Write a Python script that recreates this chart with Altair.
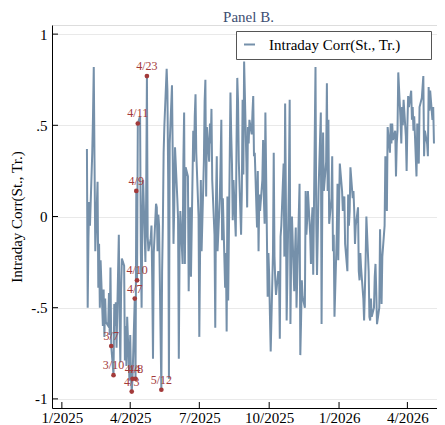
import altair as alt
import pandas as pd

# ---- data: intraday correlation, one value per business day, by month ----
feb25 = [0.37, -0.50, -0.12, 0.08, -0.05, 0.35, 0.55, 0.82, 0.30, -0.19, 0.19, -0.39, -0.15, -0.50, -0.24, -0.60, -0.40, -0.66, -0.45, -0.58]
mar25 = [-0.60, -0.42, -0.65, -0.28, -0.71, -0.87, -0.48, -0.60, -0.47, -0.72, -0.10, -0.55, -0.80, -0.40, -0.23, -0.27, -0.79, -0.60, -0.82, -0.55, -0.90]
apr25 = [-0.65, -0.88, -0.96, -0.89, -0.45, -0.89, 0.14, -0.35, 0.51, 0.55, -0.20, -0.50, 0.00, 0.20, -0.25, 0.10, 0.77, -0.11, -0.19, -0.12, -0.05, -0.35]
may25 = [-0.78, -0.20, 0.07, 0.05, -0.19, 0.01, -0.05, -0.95, -0.30, -0.04, 0.35, 0.50, 0.81, 0.69, 0.20, -0.89, 0.40, 0.72, 0.33, -0.15, 0.05, 0.38]
jun25 = [0.10, -0.01, -0.78, -0.20, 0.03, -0.26, 0.30, 0.57, -0.26, 0.27, 0.22, -0.41, -0.10, 0.05, -0.33, 0.47, 0.30, 0.55, 0.67, 0.35, 0.00]
jul25 = [-0.66, -0.20, 0.20, -0.19, 0.30, 0.63, 0.75, 0.11, 0.49, 0.30, 0.51, 0.40, 0.59, 0.20, -0.10, -0.61, 0.10, 0.33, -0.19, 0.10, 0.30, 0.53, -0.13]
aug25 = [0.10, -0.39, -0.20, -0.63, 0.11, -0.46, 0.68, 0.45, 0.29, -0.02, 0.20, -0.11, 0.40, 0.76, 0.63, 0.30, -0.10, 0.14, 0.64, 0.23, 0.85]
sep25 = [0.30, 0.05, 0.49, 0.40, 0.53, 0.45, 0.57, 0.66, 0.33, 0.35, -0.06, 0.25, -0.19, 0.12, 0.03, 0.20, 0.42, 0.10, -0.04, 0.57, -0.44, -0.20]
oct25 = [-0.32, -0.54, -0.74, -0.20, 0.35, -0.22, -0.35, -0.43, -0.30, -0.33, -0.67, -0.11, -0.05, 0.29, -0.22, 0.62, 0.10, -0.57, 0.20, 0.64, -0.59, -0.20, 0.00]
nov25 = [-0.41, -0.20, -0.06, -0.50, -0.33, 0.18, -0.76, -0.57, -0.35, -0.44, -0.50, 0.14, -0.10, -0.02, 0.14, -0.10, -0.26, -0.04, 0.05, -0.32]
dec25 = [0.82, -0.04, -0.32, -0.10, 0.14, 0.57, -0.59, 0.10, 0.46, 0.14, 0.30, 0.73, 0.14, 0.53, -0.04, 0.10, 0.33, -0.19, -0.10, -0.55, -0.10, 0.18, -0.24]
jan26 = [0.05, 0.29, 0.14, 0.03, 0.08, 0.11, -0.15, -0.30, 0.12, -0.05, 0.03, 0.27, 0.10, 0.14, 0.03, -0.15, -0.05, 0.05, -0.30, -0.35, -0.20, -0.28]
feb26 = [-0.45, -0.57, -0.41, -0.24, 0.00, -0.30, -0.55, -0.57, -0.45, -0.55, -0.50, -0.33, -0.26, -0.41, -0.59, -0.50, -0.07, -0.32, -0.48, -0.22]
mar26 = [-0.05, 0.33, 0.15, 0.03, 0.49, 0.35, 0.51, 0.40, 0.51, 0.42, 0.47, 0.22, 0.40, 0.47, 0.79, 0.53, 0.40, 0.60, 0.50, 0.64, 0.44, 0.25]
apr26 = [0.50, 0.66, 0.60, 0.69, 0.53, 0.60, 0.47, 0.55, 0.22, 0.51, 0.40, 0.29, 0.60, 0.65, 0.71, 0.77, 0.33, 0.47, 0.40, 0.33, 0.71, 0.58]
may26 = [0.69, 0.53, 0.60, 0.40]

month_starts = ["2025-02-01", "2025-03-01", "2025-04-01", "2025-05-01", "2025-06-01", "2025-07-01",
                "2025-08-01", "2025-09-01", "2025-10-01", "2025-11-01", "2025-12-01", "2026-01-01",
                "2026-02-01", "2026-03-01", "2026-04-01", "2026-05-01"]
month_values = [feb25, mar25, apr25, may25, jun25, jul25, aug25, sep25, oct25, nov25, dec25,
                jan26, feb26, mar26, apr26, may26]

# annotated days
ann_labels = ["3/7", "3/10", "4/3", "4/4", "4/7", "4/8", "4/9", "4/10", "4/11", "4/23", "5/12"]
ann_dates = ["2025-03-07", "2025-03-10", "2025-04-03", "2025-04-04", "2025-04-07", "2025-04-08",
             "2025-04-09", "2025-04-10", "2025-04-11", "2025-04-23", "2025-05-12"]

y_ticks = [-1, -0.5, 0, 0.5, 1]
x_ticks = ["2025-01-01", "2025-04-01", "2025-07-01", "2025-10-01", "2026-01-01", "2026-04-01"]

SERIES = "Intraday Corr(St., Tr.)"

dates, vals = [], []
for start, v in zip(month_starts, month_values):
    d = pd.bdate_range(start, periods=len(v))
    dates += [x.strftime("%Y-%m-%d") for x in d]
    vals += v
df = pd.DataFrame({"date": dates, "corr": vals, "series": SERIES})

ann = df[df["date"].isin(ann_dates)].copy()
ann["label"] = ann["date"].map(dict(zip(ann_dates, ann_labels)))

ytick_df = pd.DataFrame({"corr": y_ticks})
xtick_df = pd.DataFrame({"date": x_ticks})

W, H = 385, 383
FONT = "Liberation Serif"
LINE = "#7590aa"
RED = "#a33a3a"

def dt(s):
    y, m, d = (int(p) for p in s.split("-"))
    return alt.DateTime(year=y, month=m, date=d, utc=True)

x_enc = alt.X(
    "date:T",
    scale=alt.Scale(type="utc", domain=[dt("2024-12-19"), dt("2026-05-10")]),
    axis=alt.Axis(values=[dt(s) for s in x_ticks], format="%-m/%Y", title=None, ticks=False,
                  grid=False, labelPadding=2, labelFontSize=15, labelFont=FONT,
                  labelColor="black", domainColor="black", labelFlush=False),
)
y_enc = alt.Y(
    "corr:Q",
    scale=alt.Scale(domain=[-1.05, 1.05], nice=False, zero=False),
    axis=alt.Axis(values=y_ticks,
                  labelExpr="datum.value == 1 ? '1' : datum.value == 0.5 ? '.5' : datum.value == 0 ? '0' : datum.value == -0.5 ? '-.5' : '-1'",
                  title=SERIES, ticks=False, grid=True, gridColor="#e9e9e9", gridWidth=1,
                  labelPadding=5, titlePadding=6, labelFontSize=15, titleFontSize=15,
                  labelFont=FONT, titleFont=FONT, titleFontWeight="normal",
                  labelColor="black", titleColor="black", domainColor="black"),
)

line = alt.Chart(df).mark_line(strokeWidth=2).encode(
    x=x_enc, y=y_enc,
    color=alt.Color("series:N", scale=alt.Scale(range=[LINE]),
                    legend=alt.Legend(title=" ", titleOrient="right", titlePadding=24,
                                      orient="none", legendX=184, legendY=6,
                                      symbolType="stroke", symbolStrokeWidth=2, symbolSize=121,
                                      labelFontSize=15, labelFont=FONT, labelColor="black",
                                      strokeColor="#555555", fillColor="white",
                                      padding=6, labelOffset=12)),
)

pts = alt.Chart(ann).mark_circle(size=22, color=RED, opacity=1).encode(x=x_enc, y=y_enc)
labels = alt.Chart(ann).mark_text(baseline="bottom", dy=-3, fontSize=12, font=FONT, color=RED).encode(
    x=x_enc, y=y_enc, text="label:N")

yt = alt.Chart(ytick_df).mark_rule(color="black", strokeWidth=1).encode(
    y=y_enc, x=alt.value(0), x2=alt.value(6))
xt = alt.Chart(xtick_df).mark_rule(color="black", strokeWidth=1).encode(
    x=x_enc, y=alt.value(H), y2=alt.value(H - 6))

chart = alt.layer(line, pts, labels, yt, xt).properties(
    width=W, height=H,
    autosize=alt.AutoSizeParams(type="none"),
    padding={"left": 44, "top": 17, "right": 0, "bottom": 20},
    title=alt.TitleParams("Panel B.", fontSize=15, fontWeight="normal", font=FONT,
                          color="#3d4e72", offset=0, dx=4),
).configure_view(stroke=None).configure(font=FONT)

chart.save("out.html", embed_options={"renderer": "svg", "actions": False})
